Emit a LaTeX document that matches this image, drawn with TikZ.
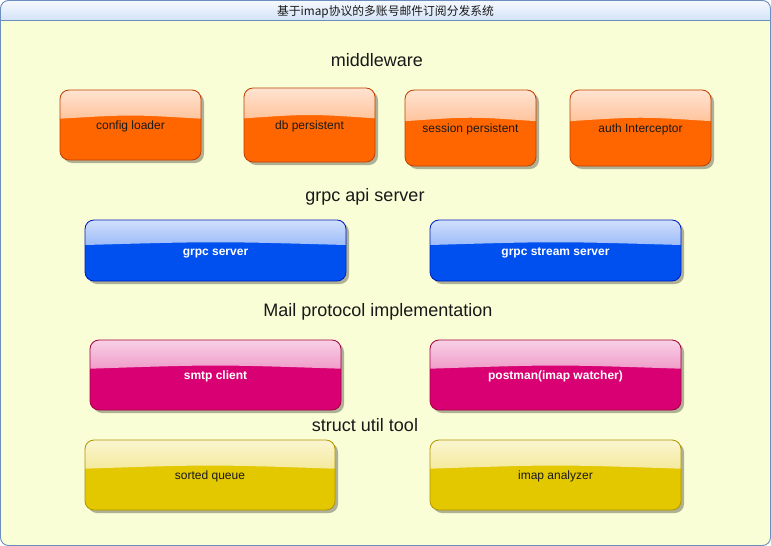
\documentclass[tikz,border=0pt]{standalone}
\usepackage{fontspec}
\setmainfont{Liberation Sans}
\newfontfamily\cjk{Noto Sans CJK SC}
\usetikzlibrary{shadows,calc}

\definecolor{pagebg}{HTML}{FAFED6}
\definecolor{framecol}{HTML}{6C8EBF}
\definecolor{titletop}{HTML}{F7FAFF}
\definecolor{titlebot}{HTML}{D3E2F7}
\definecolor{orangefill}{HTML}{FF6600}
\definecolor{orangeline}{HTML}{C04000}
\definecolor{bluefill}{HTML}{0050EF}
\definecolor{blueline}{HTML}{001DBC}
\definecolor{pinkfill}{HTML}{D80073}
\definecolor{pinkline}{HTML}{A50040}
\definecolor{yellowfill}{HTML}{E3C800}
\definecolor{yellowline}{HTML}{B09500}

\tikzset{
  glassbox/.style 2 args={draw=#2, fill=#1, line width=0.8pt, rounded corners=9pt,
    inner sep=0pt, text height=9pt, text depth=0pt, font=\fontsize{12}{14}\selectfont,
    drop shadow={shadow xshift=3pt, shadow yshift=-3pt, opacity=0.3, fill=black},
    path picture={
      \shade[sharp corners, top color=#1!18!white, bottom color=#1!68!white]
        (path picture bounding box.north west) -- (path picture bounding box.north east)
        -- ($(path picture bounding box.north east)!0.41!(path picture bounding box.south east)$)
        .. controls ($(path picture bounding box.north)!0.35!(path picture bounding box.south)$) ..
        ($(path picture bounding box.north west)!0.41!(path picture bounding box.south west)$) -- cycle;
    }},
  orangebox/.style={glassbox={orangefill}{orangeline}, text=black!90},
  bluebox/.style={glassbox={bluefill}{blueline}, text=white, font=\fontsize{12}{14}\selectfont\bfseries},
  pinkbox/.style={glassbox={pinkfill}{pinkline}, text=white, font=\fontsize{12}{14}\selectfont\bfseries},
  yellowbox/.style={glassbox={yellowfill}{yellowline}, text=black!90},
  layerlabel/.style={text=black!90, inner sep=0pt, text height=13pt, text depth=0pt,
    font=\fontsize{18}{21}\selectfont}
}

\begin{document}
\begin{tikzpicture}[x=1pt,y=-1pt]
  \useasboundingbox (0,0) rectangle (771,546);

  %Cadre
  \fill[pagebg, rounded corners=8pt] (0.5,0.5) rectangle (770.5,545.5);
  \begin{scope}
    \clip[rounded corners=8pt] (0.5,0.5) rectangle (770.5,545.5);
    \shade[top color=titletop, bottom color=titlebot] (0,0) rectangle (771,20.5);
  \end{scope}
  \draw[framecol, line width=0.9pt] (0.5,20.5) -- (770.5,20.5);
  \draw[framecol, line width=0.9pt, rounded corners=8pt] (0.5,0.5) rectangle (770.5,545.5);
  \node[inner sep=0pt, font=\cjk\fontsize{11.8}{13}\selectfont, text=black!90] (title) at (385.5,11.5) {基于imap协议的多账号邮件订阅分发系统};

  %middleware
  \node[layerlabel] (lblmiddleware) at (377,60) {middleware};
  \node[orangebox, minimum width=141pt, minimum height=70pt] (configloader) at (130.5,125) {config loader};
  \node[orangebox, minimum width=131pt, minimum height=74pt] (dbpersist) at (309.5,125) {db persistent};
  \node[orangebox, minimum width=131pt, minimum height=76pt] (sessionpersist) at (470.5,128) {session persistent};
  \node[orangebox, minimum width=141pt, minimum height=76pt] (authinterceptor) at (640.5,128) {auth Interceptor};

  %grpc
  \node[layerlabel] (lblgrpc) at (365,195) {grpc api server};
  \node[bluebox, minimum width=261pt, minimum height=61pt] (grpcserver) at (215.5,250.5) {grpc server};
  \node[bluebox, minimum width=251pt, minimum height=61pt] (grpcstream) at (555.5,250.5) {grpc stream server};

  %Mail protocol
  \node[layerlabel] (lblmail) at (378,310) {Mail protocol implementation};
  \node[pinkbox, minimum width=251pt, minimum height=70pt] (smtpclient) at (215.5,375) {smtp client};
  \node[pinkbox, minimum width=251pt, minimum height=70pt] (postman) at (555.5,375) {postman(imap watcher)};

  %struct util
  \node[layerlabel] (lblstruct) at (365,425) {struct util tool};
  \node[yellowbox, minimum width=250pt, minimum height=70pt] (sortedqueue) at (210,475) {sorted queue};
  \node[yellowbox, minimum width=251pt, minimum height=70pt] (imapanalyzer) at (555.5,475) {imap analyzer};
\end{tikzpicture}
\end{document}
